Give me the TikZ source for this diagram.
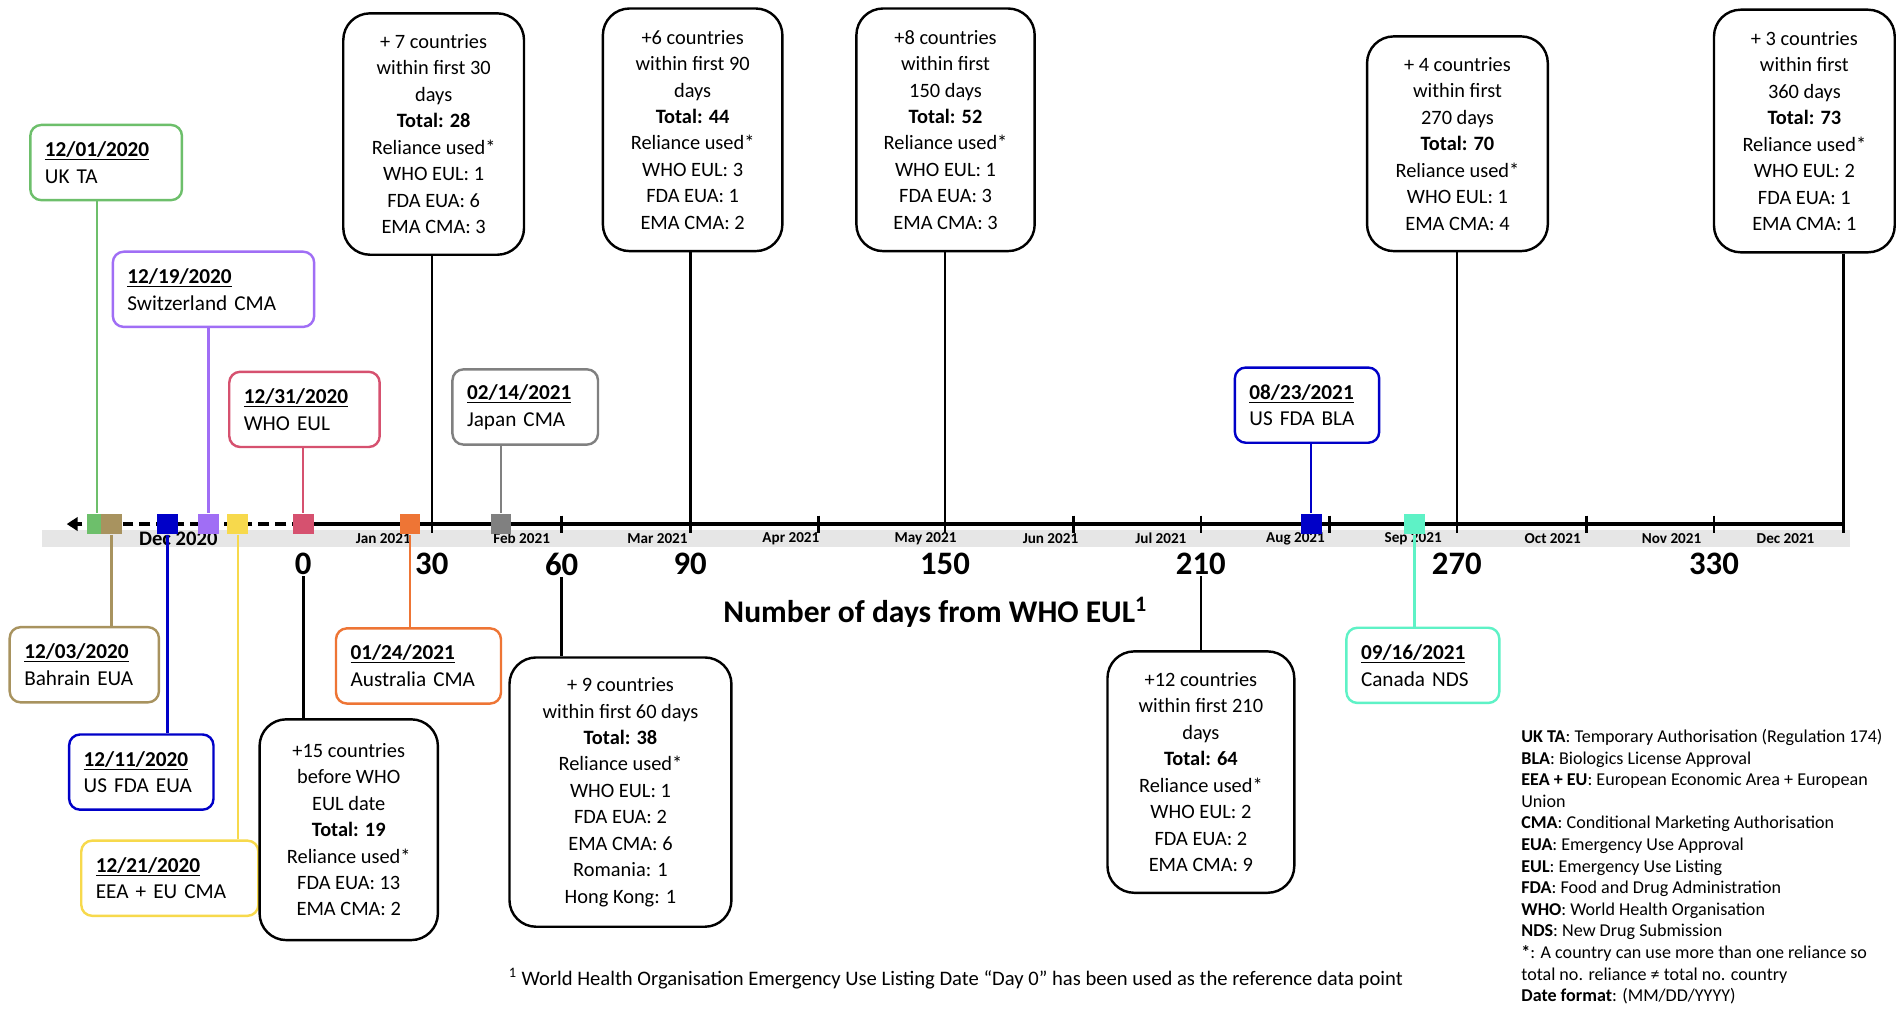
\documentclass[tikz,border=0pt]{standalone}
\usepackage{fontspec}
\setmainfont{Carlito}
\usetikzlibrary{arrows.meta}
\definecolor{ukgreen}{HTML}{6DBF6B}
\definecolor{bahbrown}{HTML}{A8935F}
\definecolor{fdablue}{HTML}{0000C8}
\definecolor{swpurple}{HTML}{A06EF5}
\definecolor{eeayellow}{HTML}{F7D94C}
\definecolor{whopink}{HTML}{D6516F}
\definecolor{ausorange}{HTML}{EE7535}
\definecolor{jpgray}{HTML}{808080}
\definecolor{canaqua}{HTML}{5EF2C6}
\definecolor{bandgray}{HTML}{E6E6E6}
\tikzset{
  smallbox/.style={draw, line width=2pt, rounded corners=9pt, align=left, fill=white,
    minimum height=62pt, inner xsep=12pt, inner ysep=0pt, font=\fontsize{17.5}{22}\selectfont},
  bigbox/.style={draw=black, line width=2pt, rounded corners=22pt, align=center, fill=white,
    inner sep=0pt, font=\fontsize{16.8}{21.8}\selectfont},
  sqmark/.style={minimum size=17pt, inner sep=0pt, draw=none},
  conn/.style={line width=2pt},
  bigconn/.style={line width=2.2pt, black},
  monthlab/.style={font=\fontsize{12.5}{14}\selectfont\bfseries, inner sep=0pt},
  daylab/.style={font=\fontsize{27}{30}\selectfont\bfseries, inner sep=1pt},
}
\begin{document}
\begin{tikzpicture}[x=1pt,y=-1pt]
\useasboundingbox[fill=white] (0,0) rectangle (1568,833);
% band
\fill[bandgray] (35,437) rectangle (1525,451);
% axis coordinates
\foreach \d/\x in {0/250,30/356,60/463,90/569,120/675,150/779,180/885,210/990,240/1096,270/1201,300/1308,330/1413,360/1520}
  \coordinate (d\d) at (\x,432);
\coordinate (arr) at (55,432);
\draw[line width=3pt] (d0) -- (d360);
\draw[line width=3pt, dash pattern=on 9pt off 5pt, -{Triangle[length=9pt,width=11pt]}] (d0) -- (arr);
\foreach \d in {30,60,...,360}
  \draw[line width=2.2pt] ([yshift=7pt]d\d) -- ([yshift=-7pt]d\d);
% month labels
\node[font=\fontsize{17}{19}\selectfont\bfseries, inner sep=0pt] (m0) at (147,444) {Dec 2020};
\node[monthlab] (m1) at (316,444) {Jan 2021};
\node[monthlab] (m2) at (430,444) {Feb 2021};
\node[monthlab] (m3) at (542,444) {Mar 2021};
\node[monthlab] (m4) at (652,444) {Apr 2021};
\node[monthlab] (m5) at (763,444) {May 2021};
\node[monthlab] (m6) at (866,444) {Jun 2021};
\node[monthlab] (m7) at (957,444) {Jul 2021};
\node[monthlab] (m8) at (1068,444) {Aug 2021};
\node[monthlab] (m9) at (1165,444) {Sep 2021};
\node[monthlab] (m10) at (1280,444) {Oct 2021};
\node[monthlab] (m11) at (1378,444) {Nov 2021};
\node[monthlab] (m12) at (1472,444) {Dec 2021};
% day labels
\node[daylab] (l0) at (250,465) {0};
\node[daylab] (l30) at (356,465) {30};
\node[daylab] (l60) at (463,465) {60};
\node[daylab] (l90) at (569,465) {90};
\node[daylab] (l150) at (779,465) {150};
\node[daylab] (l210) at (990,465) {210};
\node[daylab] (l270) at (1201,465) {270};
\node[daylab] (l330) at (1413,465) {330};
% title
\node[font=\fontsize{26}{30}\selectfont\bfseries] (title) at (771,505) {Number of days from WHO EUL\textsuperscript{1}};
% squares
\node[sqmark, fill=ukgreen] (sqUK) at (80,432) {};
\node[sqmark, fill=bahbrown] (sqBH) at (92,432) {};
\node[sqmark, fill=fdablue] (sqUS) at (138,432) {};
\node[sqmark, fill=swpurple] (sqSW) at (172,432) {};
\node[sqmark, fill=eeayellow] (sqEU) at (196,432) {};
\node[sqmark, fill=whopink] (sqWHO) at (250,432) {};
\node[sqmark, fill=ausorange] (sqAU) at (338,432) {};
\node[sqmark, fill=jpgray] (sqJP) at (413,432) {};
\node[sqmark, fill=fdablue] (sqBLA) at (1081,432) {};
\node[sqmark, fill=canaqua] (sqCA) at (1166,432) {};
% small boxes
\node[smallbox, draw=ukgreen, text width=101pt, inner xsep=12pt] (uk) at (87.5,134) {\underline{\textbf{12/01/2020}}\\UK TA};
\node[smallbox, draw=swpurple, text width=142pt] (sw) at (176,238.5) {\underline{\textbf{12/19/2020}}\\Switzerland CMA};
\node[smallbox, draw=whopink, text width=100pt] (who) at (251,337.5) {\underline{\textbf{12/31/2020}}\\WHO EUL};
\node[smallbox, draw=jpgray, text width=96pt] (jp) at (433,335.5) {\underline{\textbf{02/14/2021}}\\Japan CMA};
\node[smallbox, draw=fdablue, text width=95pt] (bla) at (1077.5,334) {\underline{\textbf{08/23/2021}}\\US FDA BLA};
\node[smallbox, draw=bahbrown, text width=99pt] (bh) at (69.5,548) {\underline{\textbf{12/03/2020}}\\Bahrain EUA};
\node[smallbox, draw=fdablue, text width=95pt] (us) at (116.5,636.5) {\underline{\textbf{12/11/2020}}\\US FDA EUA};
\node[smallbox, draw=eeayellow, text width=122pt] (eu) at (140,724) {\underline{\textbf{12/21/2020}}\\EEA + EU CMA};
\node[smallbox, draw=ausorange, text width=112pt] (au) at (345,549) {\underline{\textbf{01/24/2021}}\\Australia CMA};
\node[smallbox, draw=canaqua, text width=102pt] (ca) at (1173,548.5) {\underline{\textbf{09/16/2021}}\\Canada NDS};
% small connectors
\draw[conn, ukgreen] (sqUK.north |- uk.south) -- (sqUK.north);
\draw[conn, swpurple] (sqSW.north |- sw.south) -- (sqSW.north);
\draw[conn, whopink] (sqWHO.north |- who.south) -- (sqWHO.north);
\draw[conn, jpgray] (sqJP.north |- jp.south) -- (sqJP.north);
\draw[conn, fdablue] (sqBLA.north |- bla.south) -- (sqBLA.north);
\draw[conn, bahbrown] (sqBH.south) -- (sqBH.south |- bh.north);
\draw[conn, fdablue] (sqUS.south) -- (sqUS.south |- us.north);
\draw[conn, eeayellow] (sqEU.south) -- (sqEU.south |- eu.north);
\draw[conn, ausorange] (sqAU.south) -- (sqAU.south |- au.north);
\draw[conn, canaqua] (sqCA.south) -- (sqCA.south |- ca.north);
% big boxes top
\node[bigbox, minimum width=149pt, minimum height=199pt] (A) at (357.5,110.5)
  {+ 7 countries\\within first 30\\days\\\textbf{Total: 28}\\Reliance used*\\WHO EUL: 1\\FDA EUA: 6\\EMA CMA: 3};
\node[bigbox, minimum width=148pt, minimum height=200pt] (B) at (571,107)
  {+6 countries\\within first 90\\days\\\textbf{Total: 44}\\Reliance used*\\WHO EUL: 3\\FDA EUA: 1\\EMA CMA: 2};
\node[bigbox, minimum width=147pt, minimum height=200pt] (C) at (779.5,107)
  {+8 countries\\within first\\150 days\\\textbf{Total: 52}\\Reliance used*\\WHO EUL: 1\\FDA EUA: 3\\EMA CMA: 3};
\node[bigbox, minimum width=149pt, minimum height=177pt] (D) at (1201.5,118.5)
  {+ 4 countries\\within first\\270 days\\\textbf{Total: 70}\\Reliance used*\\WHO EUL: 1\\EMA CMA: 4};
\node[bigbox, minimum width=149pt, minimum height=200pt] (E) at (1487.5,108)
  {+ 3 countries\\within first\\360 days\\\textbf{Total: 73}\\Reliance used*\\WHO EUL: 2\\FDA EUA: 1\\EMA CMA: 1};
% big boxes bottom
\node[bigbox, minimum width=147pt, minimum height=182pt] (F) at (287.5,684)
  {+15 countries\\before WHO\\EUL date\\\textbf{Total: 19}\\Reliance used*\\FDA EUA: 13\\EMA CMA: 2};
\node[bigbox, minimum width=183pt, minimum height=222pt] (G) at (511.5,653)
  {+ 9 countries\\within first 60 days\\\textbf{Total: 38}\\Reliance used*\\WHO EUL: 1\\FDA EUA: 2\\EMA CMA: 6\\Romania: 1\\Hong Kong: 1};
\node[bigbox, minimum width=154pt, minimum height=199pt] (H) at (990,636.5)
  {+12 countries\\within first 210\\days\\\textbf{Total: 64}\\Reliance used*\\WHO EUL: 2\\FDA EUA: 2\\EMA CMA: 9};
% big connectors
\draw[bigconn] (d30 |- A.south) -- ([yshift=-7pt]d30);
\draw[bigconn] (d90 |- B.south) -- ([yshift=-7pt]d90);
\draw[bigconn] (d150 |- C.south) -- ([yshift=-7pt]d150);
\draw[bigconn] (d270 |- D.south) -- ([yshift=-7pt]d270);
\draw[bigconn] (d360 |- E.south) -- ([yshift=-7pt]d360);
\draw[bigconn] (l0.south) -- (l0.south |- F.north);
\draw[bigconn] (l60.south) -- (l60.south |- G.north);
\draw[bigconn] (l210.south) -- (l210.south |- H.north);
% legend
\node[anchor=north west, inner sep=0pt, align=left, font=\fontsize{14.9}{17.8}\selectfont] (legend) at (1254,601)
  {\textbf{UK TA}: Temporary Authorisation (Regulation 174)\\
   \textbf{BLA}: Biologics License Approval\\
   \textbf{EEA + EU}: European Economic Area + European\\
   Union\\
   \textbf{CMA}: Conditional Marketing Authorisation\\
   \textbf{EUA}: Emergency Use Approval\\
   \textbf{EUL}: Emergency Use Listing\\
   \textbf{FDA}: Food and Drug Administration\\
   \textbf{WHO}: World Health Organisation\\
   \textbf{NDS}: New Drug Submission\\
   \textbf{*}: A country can use more than one reliance so\\
   total no. reliance ≠ total no. country\\
   \textbf{Date format}: (MM/DD/YYYY)};
% footnote
\node[font=\fontsize{17}{20}\selectfont] (foot) at (788,807)
  {\textsuperscript{1} World Health Organisation Emergency Use Listing Date “Day 0” has been used as the reference data point};
\end{tikzpicture}
\end{document}
